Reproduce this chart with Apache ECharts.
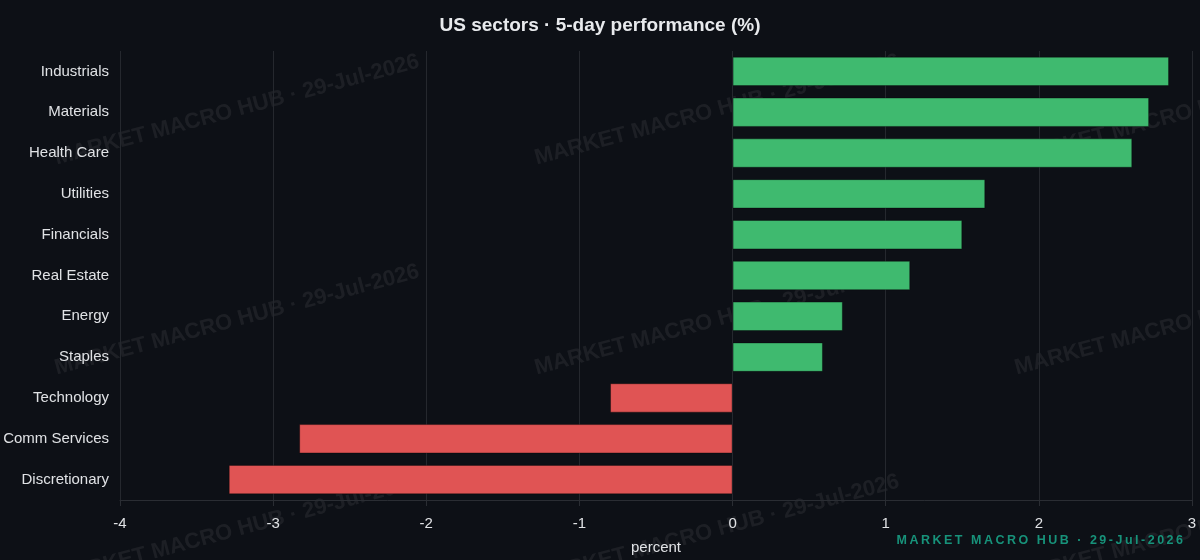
<!DOCTYPE html>
<html>
<head>
<meta charset="utf-8">
<title>US sectors 5-day performance</title>
<script src="https://cdn.jsdelivr.net/npm/echarts@6/dist/echarts.min.js"></script>
<style>
  html, body { margin: 0; padding: 0; background: #0d1016; }
  #chart { width: 1200px; height: 560px; }
</style>
</head>
<body>
<div id="chart"></div>
<script>
// sector names, top to bottom
const sectors = ['Industrials', 'Materials', 'Health Care', 'Utilities', 'Financials',
  'Real Estate', 'Energy', 'Staples', 'Technology', 'Comm Services', 'Discretionary']
// 5-day change, percent
const perf = [2.85, 2.72, 2.61, 1.65, 1.50, 1.16, 0.72, 0.59, -0.80, -2.83, -3.29]

const stamp = 'MARKET MACRO HUB · 29-Jul-2026'
const UP = '#3fba6f'
const DOWN = '#e05454'

// tiled watermark behind the plot
function watermarks() {
  const out = []
  for (let r = 0; r < 3; r++) {
    for (let c = 0; c < 3; c++) {
      out.push({
        type: 'text',
        x: 237 + c * 480,
        y: 110 + r * 210,
        rotation: 15 * Math.PI / 180,
        z: -10,
        silent: true,
        style: {
          text: stamp,
          fill: 'rgba(255,255,255,0.065)',
          font: 'bold 22px "Liberation Sans", Arial, sans-serif',
          align: 'center',
          verticalAlign: 'middle'
        }
      })
    }
  }
  return out
}

const chart = echarts.init(document.getElementById('chart'))

chart.setOption({
  backgroundColor: '#0d1016',
  textStyle: { fontFamily: '"Liberation Sans", Arial, sans-serif' },
  title: {
    text: 'US sectors · 5-day performance (%)',
    left: 'center',
    top: 11,
    textStyle: {
      color: '#e8eaed',
      fontSize: 19,
      fontWeight: 'bold'
    }
  },
  grid: {
    left: 120,
    right: 8,
    top: 51,
    bottom: 58
  },
  xAxis: {
    type: 'value',
    min: -4,
    max: 3,
    interval: 1,
    name: 'percent',
    nameLocation: 'middle',
    nameGap: 40,
    nameTextStyle: { color: '#e0e2e5', fontSize: 15 },
    axisLine: { show: true, lineStyle: { color: '#2a2d33' } },
    axisTick: { show: true, length: 6, lineStyle: { color: '#2a2d33' } },
    axisLabel: { color: '#e0e2e5', fontSize: 15, margin: 16 },
    splitLine: { show: true, lineStyle: { color: '#25282e' } }
  },
  yAxis: {
    type: 'category',
    inverse: true,
    data: sectors,
    axisLine: { show: false },
    axisTick: { show: false },
    axisLabel: { color: '#e0e2e5', fontSize: 15, margin: 11 }
  },
  series: [{
    type: 'bar',
    barWidth: '72%',
    data: perf.map(v => ({
      value: v,
      itemStyle: { color: v >= 0 ? UP : DOWN }
    })),
    itemStyle: {
      borderColor: 'rgba(0,0,0,0.35)',
      borderWidth: 1
    }
  }],
  graphic: watermarks().concat([{
    type: 'text',
    right: 17,
    bottom: 13,
    z: 100,
    silent: true,
    style: {
      text: stamp.split('').join('\u2009'),
      fill: '#17927a',
      font: 'bold 12.5px "Liberation Sans", Arial, sans-serif'
    }
  }])
})
</script>
</body>
</html>
